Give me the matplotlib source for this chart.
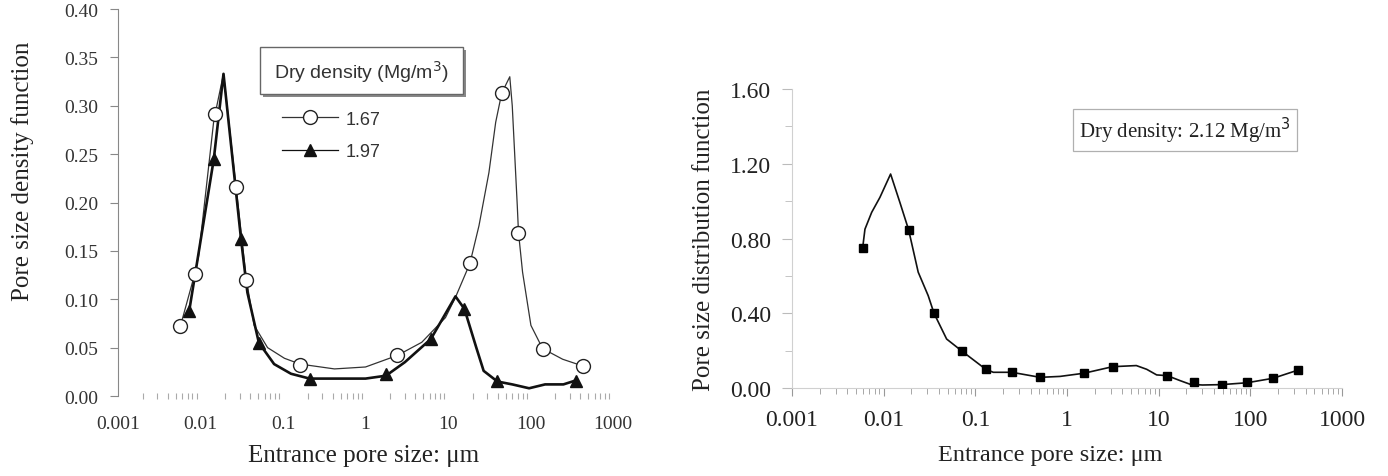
import numpy as np
import matplotlib
matplotlib.use("Agg")
import matplotlib.pyplot as plt
from matplotlib.patches import Rectangle
from matplotlib.ticker import LogLocator, NullFormatter, MultipleLocator

# x tick labels shared by both panels
x_ticks = [0.001, 0.01, 0.1, 1, 10, 100, 1000]
x_tick_labels = ['0.001', '0.01', '0.1', '1', '10', '100', '1000']

# left panel: dry density 1.67 (open circles)
d167_x = [0.0057, 0.0085, 0.0149, 0.027, 0.036, 0.161, 2.44, 18.4, 44.7, 71.4, 140, 430]
d167_y = [0.072, 0.126, 0.292, 0.216, 0.120, 0.032, 0.042, 0.137, 0.313, 0.169, 0.049, 0.031]
# curve traced through the 1.67 points
d167_line_x = [0.0057, 0.0085, 0.0095, 0.0145, 0.019, 0.027, 0.036, 0.0447, 0.065, 0.104, 0.161,
               0.42, 1.0, 2.44, 4.8, 9.3, 12.3, 18.4, 23.7, 31.3, 37.8, 44.7, 56, 60, 69, 71.4,
               80, 101, 140, 245, 430]
d167_line_y = [0.072, 0.126, 0.145, 0.285, 0.333, 0.216, 0.120, 0.073, 0.050, 0.039, 0.033,
               0.028, 0.030, 0.042, 0.0555, 0.081, 0.102, 0.137, 0.176, 0.231, 0.283, 0.313, 0.330,
               0.300, 0.197, 0.169, 0.128, 0.073, 0.049, 0.038, 0.031]

# left panel: dry density 1.97 (filled triangles)
d197_x = [0.0073, 0.0145, 0.031, 0.051, 0.21, 1.77, 6.2, 15.8, 39.6, 351]
d197_y = [0.088, 0.245, 0.162, 0.055, 0.018, 0.023, 0.059, 0.090, 0.015, 0.015]
d197_line_x = [0.0073, 0.0145, 0.019, 0.031, 0.037, 0.051, 0.078, 0.125, 0.21, 0.5, 1.0, 1.77,
               3.0, 6.2, 12.3, 15.8, 22, 27, 39.6, 60, 96, 150, 250, 351]
d197_line_y = [0.088, 0.245, 0.333, 0.162, 0.107, 0.055, 0.033, 0.023, 0.018, 0.018, 0.018, 0.021,
               0.035, 0.059, 0.103, 0.090, 0.050, 0.026, 0.015, 0.012, 0.008, 0.012, 0.012, 0.016]

# right panel: dry density 2.12
d212_x = [0.0059, 0.0187, 0.0354, 0.072, 0.13, 0.25, 0.51, 1.53, 3.14, 12.4, 24.2, 48.5, 92, 177, 332]
d212_y = [0.75, 0.847, 0.40, 0.196, 0.10, 0.084, 0.057, 0.079, 0.114, 0.066, 0.034, 0.018, 0.034, 0.052, 0.096]
d212_line_x = [0.0059, 0.00625, 0.0074, 0.0091, 0.0119, 0.0151, 0.0187, 0.0238, 0.0306, 0.0354,
               0.0486, 0.072, 0.13, 0.157, 0.25, 0.51, 0.84, 1.53, 3.14, 5.7, 7.4, 9.5, 12.4,
               17, 22, 30, 48.5, 92, 177, 332]
d212_line_y = [0.75, 0.85, 0.94, 1.02, 1.145, 0.99, 0.847, 0.62, 0.494, 0.40,
               0.262, 0.196, 0.10, 0.084, 0.084, 0.057, 0.062, 0.079, 0.114, 0.12, 0.10, 0.07, 0.066,
               0.04, 0.02, 0.016, 0.018, 0.028, 0.052, 0.096]

fig = plt.figure(figsize=(13.88, 4.77), dpi=100)

serif = 'Liberation Serif'
sans = 'Liberation Sans'

# ---------- left panel ----------
ax1 = fig.add_axes([0.085, 0.1677, 0.3567, 0.8113])
ax1.plot(d167_line_x, d167_line_y, color='#333333', lw=0.9, zorder=2)
ax1.plot(d197_line_x, d197_line_y, color='#111111', lw=1.9, zorder=2)
ax1.plot(d167_x, d167_y, 'o', ms=10, mfc='white', mec='#222222', mew=1.0, zorder=3)
ax1.plot(d197_x, d197_y, '^', ms=9, color='#111111', zorder=4)

# legend handles only (no data)
ax1.plot([], [], '-o', color='#333333', lw=0.9, ms=10, mfc='white', mec='#222222', label='1.67')
ax1.plot([], [], '-^', color='#111111', lw=0.9, ms=9, label='1.97')
leg = ax1.legend(loc='upper left', bbox_to_anchor=(0.331, 0.737), frameon=False,
                 prop={'family': sans, 'size': 13}, handlelength=3.1, handletextpad=0.45,
                 labelspacing=0.85, borderpad=0, borderaxespad=0)
for t in leg.get_texts():
    t.set_color('#333333')

# title box for the legend, with a grey shadow
ax1.add_patch(Rectangle((0.292, 0.772), 0.41, 0.121, transform=ax1.transAxes,
                        facecolor='#888888', edgecolor='none', zorder=5))
ax1.add_patch(Rectangle((0.287, 0.780), 0.41, 0.121, transform=ax1.transAxes,
                        facecolor='white', edgecolor='#666666', lw=1.0, zorder=6))
ax1.text(0.492, 0.840, 'Dry density (Mg/m$^3$)', transform=ax1.transAxes, ha='center', va='center',
         family=sans, fontsize=14, color='#333333', zorder=7)

ax1.set_xscale('log')
ax1.set_xlim(0.001, 1000)
ax1.set_ylim(0, 0.40)
ax1.set_xticks(x_ticks)
ax1.set_xticklabels(x_tick_labels)
ax1.xaxis.set_minor_locator(LogLocator(base=10, subs=np.arange(2, 10), numticks=20))
ax1.xaxis.set_minor_formatter(NullFormatter())
ax1.set_yticks(np.arange(0, 0.401, 0.05))
ax1.set_yticklabels(['%.2f' % v for v in np.arange(0, 0.401, 0.05)])
for s in ['top', 'right', 'bottom']:
    ax1.spines[s].set_visible(False)
ax1.spines['left'].set_color('#888888')
ax1.tick_params(axis='y', direction='out', length=6, color='#888888', pad=8,
                labelsize=14, labelcolor='#333333')
ax1.tick_params(axis='x', which='major', length=0, pad=14, labelsize=14, labelcolor='#333333')
ax1.tick_params(axis='x', which='minor', direction='inout', length=4, width=0.8, color='#aaaaaa')
for lab in ax1.get_xticklabels() + ax1.get_yticklabels():
    lab.set_family(serif)
ax1.set_xlabel('Entrance pore size: μm', family=serif, fontsize=18, color='#222222')
ax1.xaxis.set_label_coords(0.497, -0.125)
ax1.set_ylabel('Pore size density function', family=serif, fontsize=18, color='#222222')
ax1.yaxis.set_label_coords(-0.17, 0.584)

# ---------- right panel ----------
ax2 = fig.add_axes([0.5706, 0.1845, 0.3963, 0.6268])
ax2.plot(d212_line_x, d212_line_y, color='#111111', lw=1.2, zorder=2)
ax2.plot(d212_x, d212_y, 's', ms=6, color='#000000', zorder=3)

ax2.text(0.522, 0.863, 'Dry density: 2.12 Mg/m$^3$', transform=ax2.transAxes, ha='left', va='center',
         family=serif, fontsize=15, color='#222222',
         bbox=dict(boxstyle='square,pad=0.3', facecolor='white', edgecolor='#b0b0b0', lw=0.9))

ax2.set_xscale('log')
ax2.set_xlim(0.001, 1000)
ax2.set_ylim(0, 1.60)
ax2.set_xticks(x_ticks)
ax2.set_xticklabels(x_tick_labels)
ax2.xaxis.set_minor_locator(LogLocator(base=10, subs=np.arange(2, 10), numticks=20))
ax2.xaxis.set_minor_formatter(NullFormatter())
ax2.set_yticks(np.arange(0, 1.601, 0.4))
ax2.set_yticklabels(['%.2f' % v for v in np.arange(0, 1.601, 0.4)])
ax2.yaxis.set_minor_locator(MultipleLocator(0.2))
for s in ['top', 'right']:
    ax2.spines[s].set_visible(False)
ax2.spines['left'].set_color('#d0d0d0')
ax2.spines['bottom'].set_color('#d0d0d0')
ax2.tick_params(axis='y', which='major', direction='out', length=7, color='#bbbbbb', pad=8,
                labelsize=17, labelcolor='#222222')
ax2.tick_params(axis='y', which='minor', direction='out', length=5, color='#bbbbbb')
ax2.tick_params(axis='x', which='major', direction='out', length=6, color='#999999', pad=9,
                labelsize=17, labelcolor='#222222')
ax2.tick_params(axis='x', which='minor', direction='out', length=4, color='#999999')
for lab in ax2.get_xticklabels() + ax2.get_yticklabels():
    lab.set_family(serif)
ax2.set_xlabel('Entrance pore size: μm', family=serif, fontsize=17.5, color='#222222')
ax2.xaxis.set_label_coords(0.469, -0.187)
ax2.set_ylabel('Pore size distribution function', family=serif, fontsize=18, color='#222222')
ax2.yaxis.set_label_coords(-0.14, 0.5)

fig.savefig('out.png', dpi=100)
